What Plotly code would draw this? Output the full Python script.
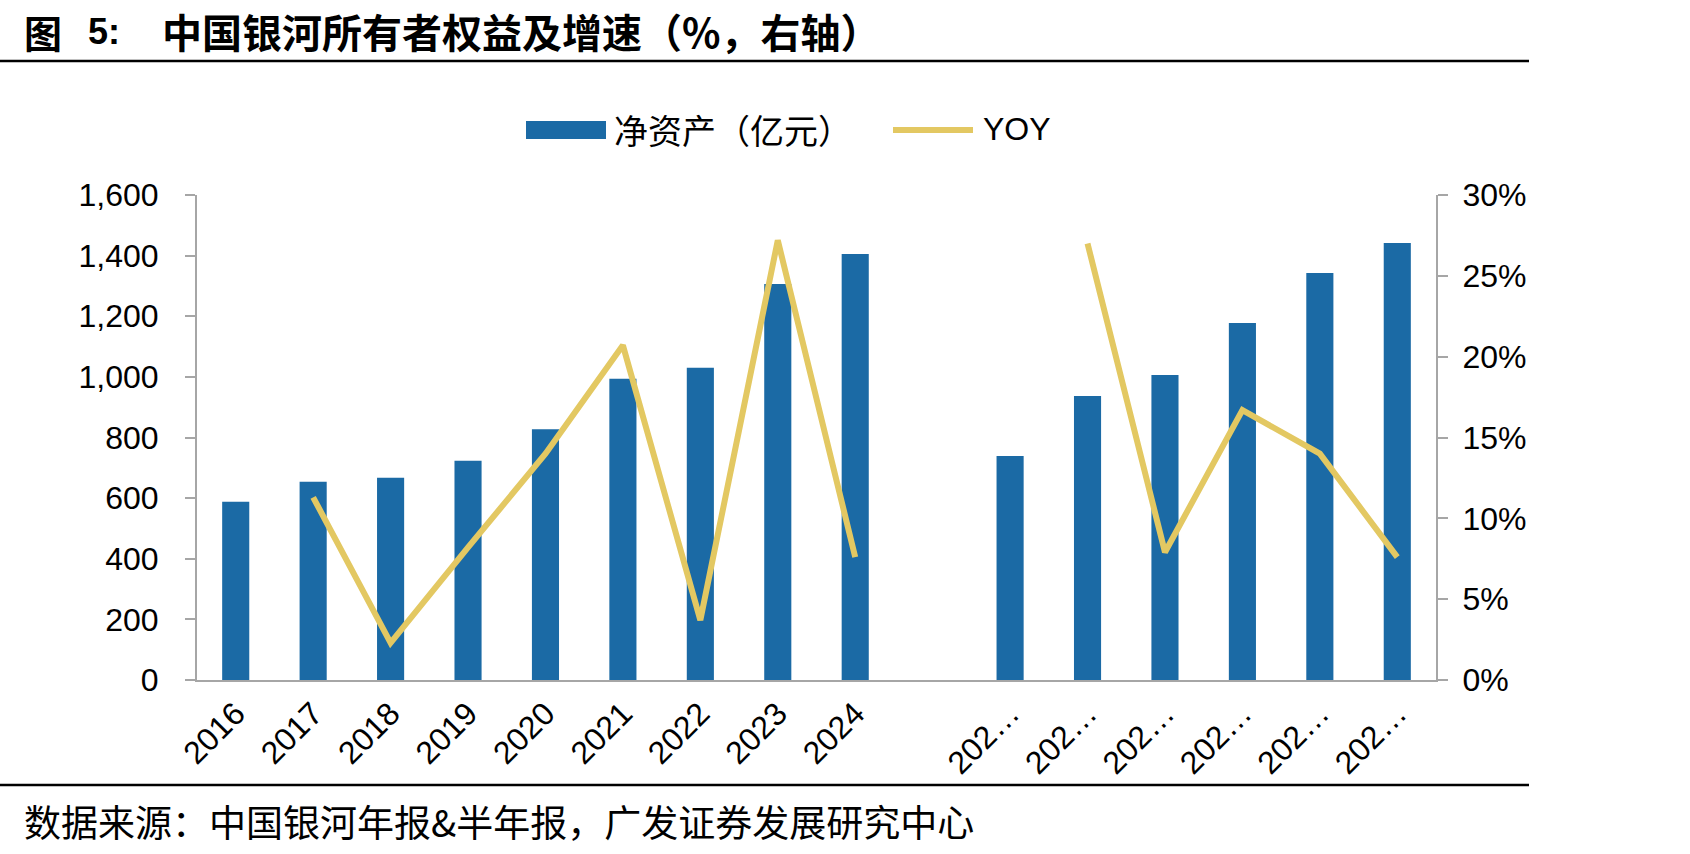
import plotly.graph_objects as go

# ---------------- data ----------------
categories = ["2016", "2017", "2018", "2019", "2020", "2021", "2022", "2023", "2024",
              "gap", "2020H1", "2021H1", "2022H1", "2023H1", "2024H1", "2025H1"]
tick_labels = ["2016", "2017", "2018", "2019", "2020", "2021", "2022", "2023", "2024",
               "", "202…", "202…", "202…", "202…", "202…", "202…"]
net_assets = [588, 654, 667, 723, 827, 994, 1030, 1306, 1405,
              None, 739, 937, 1006, 1178, 1343, 1442]
yoy = [None, 11.3, 2.3, 8.2, 14.0, 20.7, 3.7, 27.2, 7.6,
       None, None, 27.0, 7.9, 16.7, 14.0, 7.6]

left_ticks = [0, 200, 400, 600, 800, 1000, 1200, 1400, 1600]
right_ticks = [0, 5, 10, 15, 20, 25, 30]
right_tick_labels = ["0%", "5%", "10%", "15%", "20%", "25%", "30%"]

# ---------------- styling ----------------
W, H = 1690, 854
L, R, T, B = 197, 1436, 195, 680
BLUE = "#1B6AA5"
GOLD = "#E3C862"
AXIS = "#A6A6A6"
FONT = "Liberation Sans, Arial, Noto Sans CJK SC, sans-serif"
CJK = "Noto Sans CJK SC, Liberation Sans, sans-serif"


def px(x):
    return (x - L) / (R - L)


def py(y):
    return (B - y) / (B - T)


fig = go.Figure()
fig.add_trace(go.Bar(x=categories, y=net_assets, name="净资产（亿元）",
                     marker=dict(color=BLUE, line=dict(width=0)),
                     showlegend=False))
fig.add_trace(go.Scatter(x=categories, y=yoy, name="YOY", yaxis="y2",
                         mode="lines", line=dict(color=GOLD, width=6),
                         connectgaps=False, showlegend=False))

fig.update_layout(
    width=W, height=H,
    margin=dict(l=L, r=W - R, t=T, b=H - B, pad=0),
    paper_bgcolor="white", plot_bgcolor="white",
    bargap=0.65,
    font=dict(family=FONT, size=32, color="black"),
    xaxis=dict(type="category", categoryorder="array", categoryarray=categories,
               tickmode="array", tickvals=categories, ticktext=tick_labels,
               tickangle=-45, showline=True, linecolor=AXIS, linewidth=2,
               ticks="", showgrid=False, zeroline=False,
               tickfont=dict(size=32, family=FONT)),
    yaxis=dict(range=[0, 1600], tickmode="array", tickvals=left_ticks,
               tickformat=",", showline=True, linecolor=AXIS, linewidth=2,
               ticks="outside", ticklen=10, tickcolor=AXIS, tickwidth=2,
               showgrid=False, zeroline=False, ticklabelstandoff=20,
               tickfont=dict(size=32, family=FONT)),
    yaxis2=dict(range=[0, 30], overlaying="y", side="right", tickmode="array",
                tickvals=right_ticks, ticktext=right_tick_labels, showline=True,
                linecolor=AXIS, linewidth=2, ticks="outside", ticklen=10,
                tickcolor=AXIS, tickwidth=2, showgrid=False, zeroline=False,
                ticklabelstandoff=8, tickfont=dict(size=32, family=FONT)),
)

shapes = [
    # title rule and source rule
    dict(type="line", xref="paper", yref="paper", x0=px(0), x1=px(1529),
         y0=py(61), y1=py(61), line=dict(color="black", width=2.5)),
    dict(type="line", xref="paper", yref="paper", x0=px(0), x1=px(1529),
         y0=py(785), y1=py(785), line=dict(color="black", width=2.5)),
    # legend symbols
    dict(type="rect", xref="paper", yref="paper", x0=px(526), x1=px(606),
         y0=py(139), y1=py(121), fillcolor=BLUE, line=dict(width=0)),
    dict(type="line", xref="paper", yref="paper", x0=px(893), x1=px(973),
         y0=py(130), y1=py(130), line=dict(color=GOLD, width=6)),
    # image crop on the right edge
    dict(type="rect", xref="paper", yref="paper", x0=px(1530), x1=px(1700),
         y0=py(870), y1=py(-20), fillcolor="white", line=dict(width=0),
         layer="above"),
]


def title_piece(text, x, size, family=CJK):
    return dict(text="<b>" + text + "</b>", xref="paper", yref="paper",
                x=px(x), y=py(31), xanchor="left", yanchor="middle",
                showarrow=False, font=dict(family=family, size=size, color="black"))


annotations = [
    title_piece("图", 22, 38),
    title_piece("5:", 86, 36, FONT),
    title_piece("中国银河所有者权益及增速（%，右轴）", 160, 40),
    dict(text="净资产（亿元）", xref="paper", yref="paper",
         x=px(612), y=py(129), xanchor="left", yanchor="middle", showarrow=False,
         font=dict(family=CJK, size=34, color="black")),
    dict(text="YOY", xref="paper", yref="paper",
         x=px(981), y=py(129), xanchor="left", yanchor="middle", showarrow=False,
         font=dict(family=FONT, size=32, color="black")),
    dict(text="数据来源：中国银河年报&半年报，广发证券发展研究中心", xref="paper", yref="paper",
         x=px(22), y=py(821), xanchor="left", yanchor="middle", showarrow=False,
         font=dict(family=CJK, size=37, color="black")),
]

fig.update_layout(shapes=shapes, annotations=annotations)
fig.write_html("out.html")
